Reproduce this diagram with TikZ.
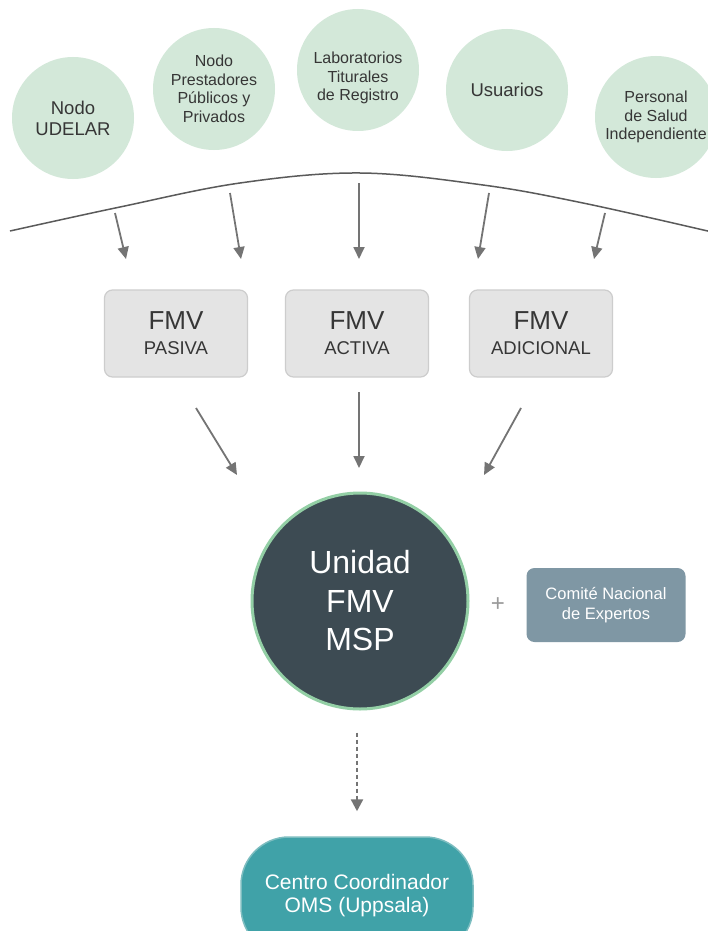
\documentclass[tikz,border=0pt]{standalone}
\usepackage{fontspec}
\setmainfont{Liberation Sans}
\usetikzlibrary{arrows.meta}
\definecolor{leaf}{HTML}{D3E8D9}
\definecolor{txt}{HTML}{363636}
\definecolor{boxfill}{HTML}{E4E4E4}
\definecolor{boxline}{HTML}{CDCDCD}
\definecolor{arrowc}{HTML}{747474}
\definecolor{curvec}{HTML}{5A5A5A}
\definecolor{hubc}{HTML}{3D4B53}
\definecolor{hubline}{HTML}{93CFA5}
\definecolor{comitec}{HTML}{7F97A4}
\definecolor{plusc}{HTML}{9A9A9A}
\definecolor{centroc}{HTML}{40A2A8}
\definecolor{centroline}{HTML}{7DBDC0}
\begin{document}
\begin{tikzpicture}[x=1pt,y=-1pt,
  src/.style={circle, fill=leaf, minimum size=122pt, inner sep=0pt, align=center, text=txt, font=\fontsize{16}{18.5}\selectfont},
  fmv/.style={rectangle, rounded corners=8pt, fill=boxfill, draw=boxline, line width=1.2pt, minimum width=143pt, minimum height=87pt, inner sep=0pt, align=center, text=txt, font=\fontsize{18.5}{25}\selectfont},
  arr/.style={draw=arrowc, line width=1.8pt, -{Triangle[width=11pt,length=12pt]}},
  darr/.style={draw=arrowc, line width=2.4pt, dash pattern=on 4.5pt off 2.5pt, -{Triangle[width=12pt,length=12pt]}},
  hub/.style={circle, fill=hubc, draw=hubline, line width=3pt, minimum size=216pt, inner sep=0pt, align=center, text=white, font=\fontsize{32}{38.5}\selectfont},
  comitebox/.style={rectangle, rounded corners=8pt, fill=comitec, minimum width=159pt, minimum height=74pt, inner sep=0pt, align=center, text=white, font=\fontsize{16.5}{20}\selectfont},
  centrobox/.style={rectangle, rounded corners=48pt, fill=centroc, draw=centroline, line width=1.5pt, minimum width=232pt, minimum height=118pt, inner sep=0pt, align=center, text=white, font=\fontsize{21}{23}\selectfont},
]
\useasboundingbox (0,0) rectangle (707,931);
\fill[white] (0,0) rectangle (707,931);

% source circles
\node[src, font=\fontsize{18.5}{21}\selectfont] (udelar) at (73,118) {Nodo\\UDELAR};
\node[src] (prest) at (214,89) {Nodo\\Prestadores\\Públicos y\\Privados};
\node[src] (lab) at (358,70) {};
\node[align=center, text=txt, font=\fontsize{16}{18.5}\selectfont] (labtxt) at (358,78) {Laboratorios\\Titurales\\de Registro};
\node[src, font=\fontsize{18.5}{21}\selectfont] (usu) at (507,90) {Usuarios};
\node[src] (pers) at (656,117) {Personal\\de Salud\\Independiente};

% curve
\draw[curvec, line width=1.5pt] plot[smooth, tension=0.6] coordinates {(10,231) (120,207) (240,183) (360,173) (483,185) (583,203) (712,232)};

% arrows from curve
\coordinate (c1s) at (115,213); \coordinate (c1e) at (126,259);
\coordinate (c2s) at (230,193); \coordinate (c2e) at (241,259);
\coordinate (c3s) at (359,183); \coordinate (c3e) at (359,259);
\coordinate (c4s) at (489,193); \coordinate (c4e) at (478,259);
\coordinate (c5s) at (605,213); \coordinate (c5e) at (594,259);
\draw[arr] (c1s) -- (c1e);
\draw[arr] (c2s) -- (c2e);
\draw[arr] (c3s) -- (c3e);
\draw[arr] (c4s) -- (c4e);
\draw[arr] (c5s) -- (c5e);

% FMV boxes
\node[fmv] (pasiva) at (176,333.5) {{\fontsize{26}{25}\selectfont FMV}\\PASIVA};
\node[fmv] (activa) at (357,333.5) {{\fontsize{26}{25}\selectfont FMV}\\ACTIVA};
\node[fmv] (adicional) at (541,333.5) {{\fontsize{26}{25}\selectfont FMV}\\ADICIONAL};

% hub
\node[hub] (unidad) at (360,601) {Unidad\\FMV\\MSP};

% arrows to hub
\coordinate (h1s) at (196,408); \coordinate (h1e) at (237,475);
\coordinate (h2s) at (359,392); \coordinate (h2e) at (359,468);
\coordinate (h3s) at (521,408); \coordinate (h3e) at (484,475);
\draw[arr] (h1s) -- (h1e);
\draw[arr] (h2s) -- (h2e);
\draw[arr] (h3s) -- (h3e);

% plus and comite
\node[text=plusc, font=\fontsize{24}{24}\selectfont] (plus) at (498,605) {+};
\node[comitebox] (comite) at (606,605) {Comité Nacional\\de Expertos};

% centro
\node[centrobox] (centro) at (357,896) {Centro Coordinador\\OMS (Uppsala)};
\draw[darr] ([yshift=-22pt]unidad.south -| centro.north) -- ([yshift=25pt]centro.north);
\end{tikzpicture}
\end{document}
